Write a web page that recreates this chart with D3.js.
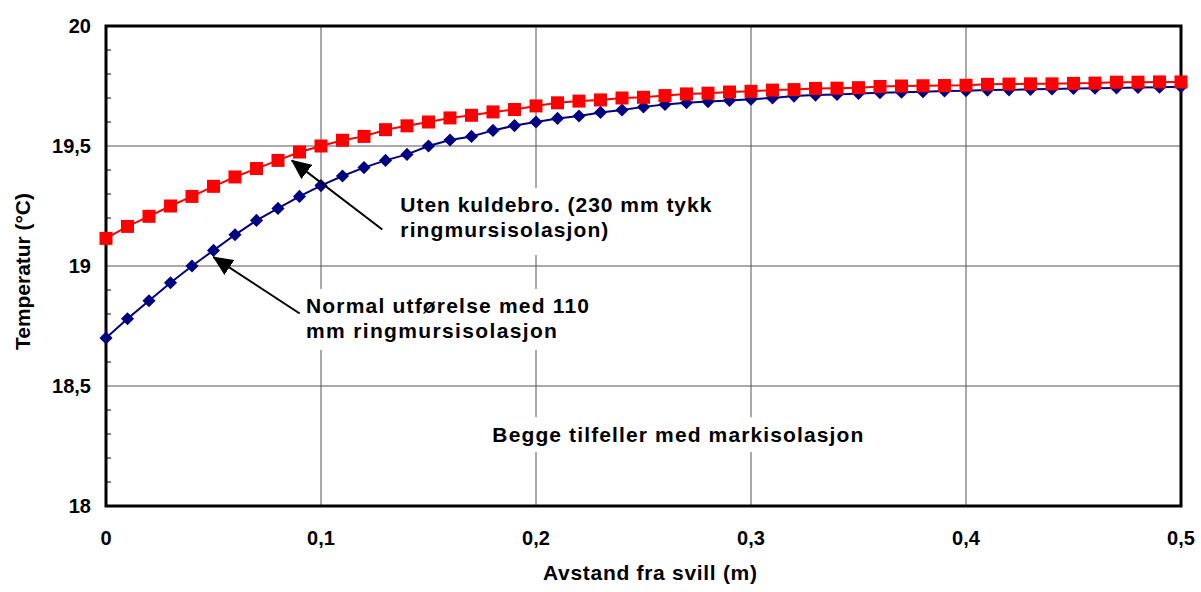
<!DOCTYPE html>
<html><head><meta charset="utf-8">
<script src="https://cdn.jsdelivr.net/npm/d3@7"></script>
<style>
html,body{margin:0;padding:0;background:#fff;}
svg{display:block;}
svg text{font-family:"Liberation Sans",Arial,sans-serif;font-weight:700;fill:#000;}
</style></head>
<body><svg id="c" width="1201" height="592"></svg>
<script>
const distances = [0,0.01,0.02,0.03,0.04,0.05,0.06,0.07,0.08,0.09,0.10,0.11,0.12,0.13,0.14,0.15,0.16,0.17,0.18,0.19,0.20,0.21,0.22,0.23,0.24,0.25,0.26,0.27,0.28,0.29,0.30,0.31,0.32,0.33,0.34,0.35,0.36,0.37,0.38,0.39,0.40,0.41,0.42,0.43,0.44,0.45,0.46,0.47,0.48,0.49,0.50];
const normal110 = [18.70,18.78,18.855,18.93,19.00,19.065,19.13,19.19,19.24,19.29,19.335,19.375,19.41,19.44,19.465,19.50,19.525,19.54,19.565,19.585,19.60,19.615,19.625,19.64,19.65,19.663,19.673,19.68,19.685,19.69,19.695,19.70,19.708,19.712,19.715,19.719,19.722,19.724,19.726,19.729,19.73,19.733,19.734,19.736,19.738,19.74,19.741,19.742,19.744,19.745,19.747];
const utenKuldebro = [19.115,19.165,19.207,19.25,19.29,19.332,19.371,19.406,19.44,19.475,19.50,19.524,19.54,19.568,19.584,19.60,19.617,19.628,19.642,19.652,19.667,19.68,19.687,19.692,19.70,19.703,19.71,19.717,19.72,19.725,19.728,19.733,19.735,19.74,19.741,19.743,19.748,19.75,19.751,19.752,19.753,19.757,19.758,19.759,19.759,19.761,19.762,19.766,19.766,19.767,19.767];
const xTicks = [0,0.1,0.2,0.3,0.4,0.5];
const xTickLabels = ["0","0,1","0,2","0,3","0,4","0,5"];
const yTicks = [18,18.5,19,19.5,20];
const yTickLabels = ["18","18,5","19","19,5","20"];
const yMinor = [18.1,18.2,18.3,18.4,18.6,18.7,18.8,18.9,19.1,19.2,19.3,19.4,19.6,19.7,19.8,19.9];
const xTitle = "Avstand fra svill (m)";
const yTitle = "Temperatur (°C)";
const noteUten = ["Uten kuldebro. (230 mm tykk","ringmursisolasjon)"];
const noteNormal = ["Normal utførelse med 110","mm ringmursisolasjon"];
const noteBegge = "Begge tilfeller med markisolasjon";

const svg = d3.select("#c");
const L=106, R=1181, T=26, B=506;
const x = d3.scaleLinear().domain([0,0.5]).range([L,R]);
const y = d3.scaleLinear().domain([18,20]).range([B,T]);

// gridlines
svg.selectAll("line.vg").data(xTicks.slice(1,-1)).enter().append("line")
  .attr("x1",d=>x(d)).attr("x2",d=>x(d)).attr("y1",T).attr("y2",B)
  .attr("stroke","#555").attr("stroke-width",1);
svg.selectAll("line.hg").data(yTicks.slice(1,-1)).enter().append("line")
  .attr("x1",L).attr("x2",R).attr("y1",d=>y(d)).attr("y2",d=>y(d))
  .attr("stroke","#555").attr("stroke-width",1);

// white boxes behind notes (cover gridlines)
function box(x0,y0,x1,y1){svg.append("rect").attr("x",x(x0)).attr("y",y(y0)).attr("width",x(x1)-x(x0)).attr("height",y(y1)-y(y0)).attr("fill","#fff");}
box(0.1345,19.325,0.2850,19.046);
box(0.0905,18.904,0.2290,18.65);
box(0.1775,18.37,0.3550,18.225);

// minor ticks on y axis
svg.selectAll("line.mt").data(yMinor).enter().append("line")
  .attr("x1",L).attr("x2",L+5).attr("y1",d=>y(d)).attr("y2",d=>y(d))
  .attr("stroke","#000").attr("stroke-width",1);

// frame
svg.append("rect").attr("x",L).attr("y",T).attr("width",R-L).attr("height",B-T)
  .attr("fill","none").attr("stroke","#000").attr("stroke-width",3);

// series
const lineGen = d3.line().x((d,i)=>x(distances[i])).y(d=>y(d));
svg.append("path").datum(normal110).attr("d",lineGen).attr("fill","none").attr("stroke","#000080").attr("stroke-width",2);
svg.selectAll("path.dia").data(normal110).enter().append("path")
  .attr("d",d3.symbol().type(d3.symbolSquare).size(86))
  .attr("transform",(d,i)=>`translate(${x(distances[i])},${y(d)}) rotate(45)`)
  .attr("fill","#000080");
svg.append("path").datum(utenKuldebro).attr("d",lineGen).attr("fill","none").attr("stroke","#ff0000").attr("stroke-width",2);
svg.selectAll("rect.sq").data(utenKuldebro).enter().append("rect")
  .attr("x",(d,i)=>x(distances[i])-6.5).attr("y",d=>y(d)-6.5)
  .attr("width",13).attr("height",13).attr("fill","#ff0000");

// arrows
svg.append("defs").append("marker").attr("id","ah").attr("viewBox","0 0 20 18")
  .attr("refX",19).attr("refY",9).attr("markerWidth",20).attr("markerHeight",18)
  .attr("markerUnits","userSpaceOnUse").attr("orient","auto")
  .append("path").attr("d","M0,0 L20,9 L0,18 Z").attr("fill","#000");
function arrow(x0,y0,x1,y1){svg.append("line").attr("x1",x(x0)).attr("y1",y(y0)).attr("x2",x(x1)).attr("y2",y(y1)).attr("stroke","#000").attr("stroke-width",2).attr("marker-end","url(#ah)");}
arrow(0.1285,19.152,0.0864,19.44);
arrow(0.0901,18.802,0.0500,19.037);

// notes
function note(lines,x0,yb,widths){
  lines.forEach((t,i)=>{
    svg.append("text").attr("x",x(x0)).attr("y",yb+i*25).attr("font-size",21)
      .attr("textLength",widths[i]).attr("lengthAdjust","spacing").text(t);
  });
}
note(noteUten,0.1369,211.5,[311,208]);
note(noteNormal,0.0930,312.5,[283,251]);
svg.append("text").attr("x",x(0.1797)).attr("y",441.5).attr("font-size",21)
  .attr("textLength",371).attr("lengthAdjust","spacing").text(noteBegge);

// tick labels
svg.selectAll("text.xt").data(xTicks).enter().append("text")
  .attr("x",d=>x(d)).attr("y",545).attr("text-anchor","middle").attr("font-size",20).text((d,i)=>xTickLabels[i]);
svg.selectAll("text.yt").data(yTicks).enter().append("text")
  .attr("x",91).attr("y",d=>y(d)).attr("dy","0.36em").attr("text-anchor","end").attr("font-size",20).text((d,i)=>yTickLabels[i]);

// titles
svg.append("text").attr("x",650).attr("y",580).attr("text-anchor","middle").attr("font-size",21)
  .attr("textLength",214).attr("lengthAdjust","spacing").text(xTitle);
svg.append("text").attr("transform","translate(30,271.5) rotate(-90)").attr("text-anchor","middle").attr("font-size",21)
  .attr("textLength",157).attr("lengthAdjust","spacing").text(yTitle);
</script></body></html>
